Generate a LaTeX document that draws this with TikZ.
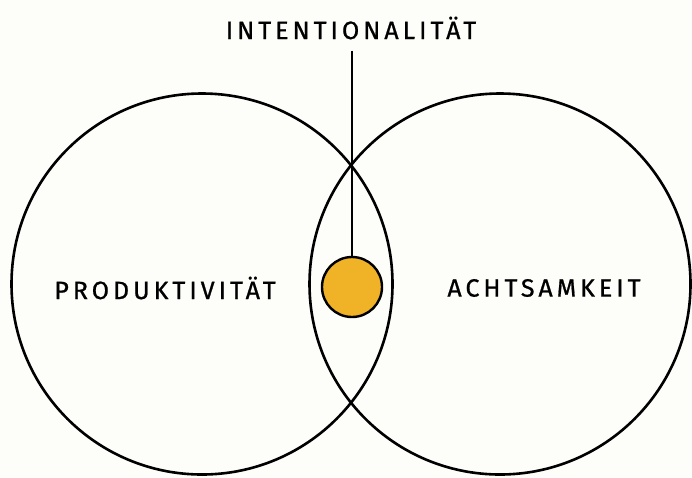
\documentclass[tikz,border=0pt]{standalone}
\usepackage{fontspec}
\newfontfamily\handfont[LetterSpace=16,FakeBold=0.8]{Fira Sans}
\usetikzlibrary{positioning}
\definecolor{paper}{RGB}{253,253,250}
\definecolor{dotorange}{RGB}{240,178,38}

\begin{document}
\begin{tikzpicture}[x=1pt,y=-1pt,
  ring/.style={draw, circle, line width=2.6pt, minimum size=381pt, inner sep=0pt},
  word/.style={font=\handfont\fontsize{25}{25}\selectfont, inner sep=2pt},
  core/.style={draw, circle, line width=2.4pt, fill=dotorange, minimum size=60pt, inner sep=0pt}]
  \fill[paper] (0,0) rectangle (692,477);
  \useasboundingbox (0,0) rectangle (692,477);
  % the two circles
  \node[ring] (prod) at (202,284) {};
  \node[ring] (acht) at (500,284) {};
  % labels
  \node[word] (prodlabel) at (165,288) {PRODUKTIVITÄT};
  \node[word] (achtlabel) at (544,288) {ACHTSAMKEIT};
  \node[word] (intent) at (351,28) {INTENTIONALITÄT};
  % the dot in the overlap
  \node[core] (dot) at (352,287) {};
  \draw[line width=2.2pt, shorten <=9pt] (dot.north |- intent.south) -- (dot);
\end{tikzpicture}
\end{document}
